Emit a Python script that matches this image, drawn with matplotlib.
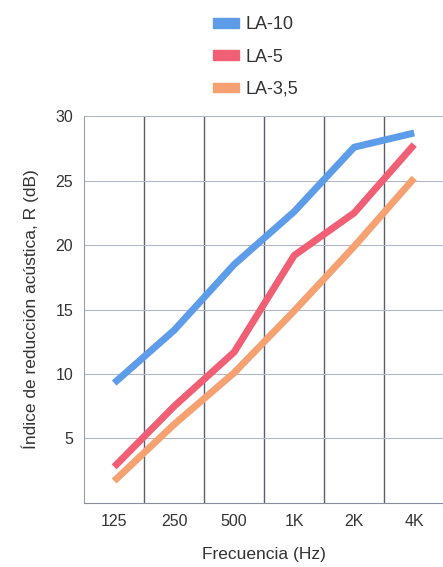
import matplotlib
matplotlib.use("Agg")
import matplotlib.pyplot as plt
from matplotlib.patches import Patch

plt.rcParams['font.family'] = ['Liberation Sans', 'DejaVu Sans']

# data
freqs = ['125', '250', '500', '1K', '2K', '4K']
la10 = [9.3, 13.4, 18.5, 22.6, 27.6, 28.7]
la5 = [2.8, 7.5, 11.7, 19.2, 22.5, 27.8]
la35 = [1.7, 6.1, 10.1, 14.9, 19.9, 25.2]
yticks = [5, 10, 15, 20, 25, 30]

c_blue = '#5c9ce8'
c_red = '#f05f74'
c_orange = '#f6a172'

fig = plt.figure(figsize=(4.43, 5.67), dpi=100)
ax = fig.add_axes([0.19, 0.113, 0.81, 0.682])

x = list(range(len(freqs)))
ax.plot(x, la35, color=c_orange, lw=5, solid_capstyle='butt', solid_joinstyle='round')
ax.plot(x, la5, color=c_red, lw=5, solid_capstyle='butt', solid_joinstyle='round')
ax.plot(x, la10, color=c_blue, lw=5, solid_capstyle='butt', solid_joinstyle='round')

ax.set_xlim(-0.5, 5.48)
ax.set_ylim(0, 30)
ax.set_xticks(x)
ax.set_xticklabels(freqs, fontsize=11.5, color='#333333')
ax.set_yticks(yticks)
ax.set_yticklabels([str(v) for v in yticks], fontsize=11.5, color='#333333')
ax.tick_params(length=0, pad=8)

# vertical grid at category boundaries, horizontal grid at ticks
for b in [0.5, 1.5, 2.5, 3.5, 4.5]:
    ax.axvline(b, color='#5a5e70', lw=1.0, zorder=0)
for v in yticks:
    ax.axhline(v, color='#b4b7c4', lw=0.8, zorder=0)

for s in ['top', 'right']:
    ax.spines[s].set_visible(False)
ax.spines['left'].set_color('#9a9daa')
ax.spines['bottom'].set_color('#8a8d9a')

ax.set_xlabel('Frecuencia (Hz)', fontsize=12.5, color='#333333', labelpad=13)
ax.set_ylabel('Índice de reducción acústica, R (dB)', fontsize=12.5, color='#333333', labelpad=12)

handles = [Patch(color=c_blue), Patch(color=c_red), Patch(color=c_orange)]
fig.legend(handles, ['LA-10', 'LA-5', 'LA-3,5'], loc='upper left',
           bbox_to_anchor=(0.445, 1.0), frameon=False, fontsize=13,
           handlelength=1.4, handleheight=0.45, handletextpad=0.4,
           labelspacing=0.85, labelcolor='#333333')

fig.savefig('out.png', dpi=100, facecolor='white')
